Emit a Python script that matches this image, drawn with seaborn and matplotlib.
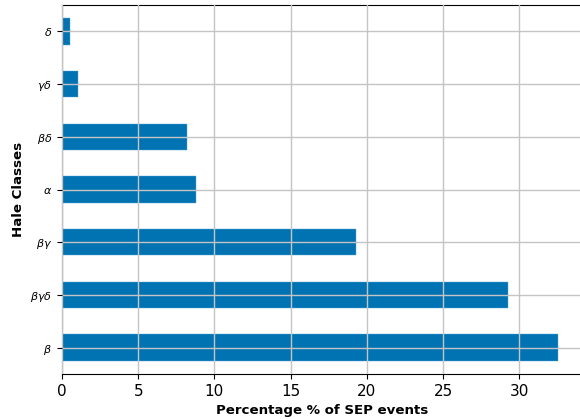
import matplotlib
matplotlib.use("Agg")
import matplotlib.pyplot as plt
import seaborn as sns
import pandas as pd

categories = [r"$\delta$", r"$\gamma\delta$", r"$\beta\delta$", r"$\alpha$",
              r"$\beta\gamma$", r"$\beta\gamma\delta$", r"$\beta$"]
values = [0.5, 1.08, 8.22, 8.8, 19.3, 29.25, 32.55]

df = pd.DataFrame({"cls": categories, "pct": values})

fig = plt.figure(figsize=(5.8, 4.19), dpi=100)
ax = fig.add_axes([62/580, 1-374/419, 1.003 - 62/580, (374-5)/419])
sns.barplot(data=df, x="pct", y="cls", orient="h", color="#0173b2",
            saturation=1, width=0.5, edgecolor="#5aa8dc", linewidth=0.3, ax=ax)
ax.set_xlim(0, 34.1)
ax.set_ylim(6.5, -0.5)
ax.grid(True, color="#c4c4c4", linewidth=1)
ax.set_axisbelow(False)
ax.set_xlabel("Percentage % of SEP events", fontsize=9.6, fontweight="bold")
ax.set_ylabel("Hale Classes", fontsize=9.6, fontweight="bold")
ax.tick_params(axis="x", labelsize=11)
ax.tick_params(axis="y", labelsize=8)
fig.savefig("out.png", dpi=100)
